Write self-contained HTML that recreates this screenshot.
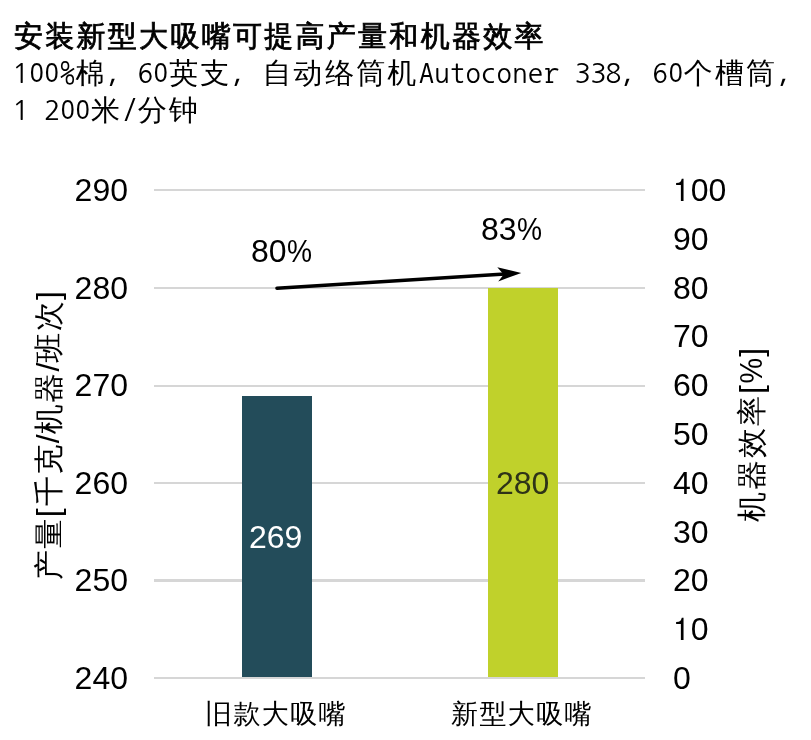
<!DOCTYPE html>
<html lang="zh-CN">
<head>
<meta charset="utf-8">
<title>安装新型大吸嘴可提高产量和机器效率</title>
<style>
html,body{margin:0;padding:0;background:#fff;}
body{width:811px;height:740px;position:relative;overflow:hidden;color:#000;}
.t{position:absolute;white-space:nowrap;line-height:1;will-change:transform;}
#title{left:14px;top:16.7px;font:29px "WenQuanYi Zen Hei","Noto Sans CJK SC",sans-serif;letter-spacing:2.28px;-webkit-text-stroke:0.8px #000;}
.sub{position:absolute;left:13px;white-space:pre;font:29px/1 "WenQuanYi Zen Hei Mono","WenQuanYi Zen Hei",monospace;letter-spacing:2.2px;will-change:transform;}
.sub i{font-style:normal;display:inline-block;width:15.6px;text-align:center;font:28px/1 "Liberation Sans",Arial,sans-serif;letter-spacing:0;position:relative;top:-0.7px;transform:scaleX(0.87);}
.sub i.n{font:30px/1 "NanumGothicCoding","Liberation Sans",Arial,sans-serif;top:-0.9px;transform:none;}
.g{position:absolute;left:154px;width:491px;height:2.4px;background:#d6d6d6;}
.bar{position:absolute;}
.yl{font:32px "Liberation Sans",Arial,sans-serif;text-align:right;width:80px;}
.yr{font:32px "Liberation Sans",Arial,sans-serif;}
.yr s{text-decoration:none;font-family:"FreeSans","Liberation Sans",Arial,sans-serif;font-size:30.4px;letter-spacing:0.9px;}
.cat{font:27px "WenQuanYi Zen Hei","Noto Sans CJK SC",sans-serif;letter-spacing:1.4px;}
.ax{font:32px "Liberation Sans","WenQuanYi Zen Hei",sans-serif;transform-origin:0 0;transform:rotate(-90deg);}
.pct{font:32px "Liberation Sans",Arial,sans-serif;}
.pc{display:inline-block;transform:scaleX(0.88);transform-origin:0 0;}
.ax b{font-weight:normal;font-size:30px;letter-spacing:2px;}
.ax.l b{letter-spacing:1.35px;}
.pc2{display:inline-block;transform:scaleX(0.9);}
.val{font:32px "Liberation Sans",Arial,sans-serif;}
</style>
</head>
<body>
<div class="t" id="title">安装新型大吸嘴可提高产量和机器效率</div>
<div class="sub" style="top:58.9px"><i class="n">1</i><i>0</i><i>0</i><i class="n">%</i>棉，<i class="n">6</i><i>0</i>英支，自动络筒机<i class="n">A</i><i class="n">u</i><i class="n">t</i><i class="n">o</i><i class="n">c</i><i class="n">o</i><i class="n">n</i><i class="n">e</i><i class="n">r</i><i class="n"> </i><i class="n">3</i><i class="n">3</i><i class="n">8</i>，<i class="n">6</i><i>0</i>个槽筒，</div>
<div class="sub" style="top:96.0px"><i class="n">1</i><i class="n"> </i><i class="n">2</i><i>0</i><i>0</i>米<i class="n">/</i>分钟</div>

<div class="g" style="top:188.8px"></div>
<div class="g" style="top:287.1px"></div>
<div class="g" style="top:384.6px"></div>
<div class="g" style="top:482.0px"></div>
<div class="g" style="top:579.3px"></div>

<div class="bar" style="left:242px;top:395.8px;width:70px;height:281.6px;background:#234c5a"></div>
<div class="bar" style="left:488px;top:288.2px;width:70px;height:389.6px;background:#c0d12b"></div>
<div class="g" style="top:676.9px"></div>

<div class="t yl" style="left:47.7px;top:172px">290</div>
<div class="t yl" style="left:47.7px;top:270px">280</div>
<div class="t yl" style="left:47.7px;top:367px">270</div>
<div class="t yl" style="left:47.7px;top:465px">260</div>
<div class="t yl" style="left:47.7px;top:562px">250</div>
<div class="t yl" style="left:47.7px;top:660px">240</div>

<div class="t yr" style="left:672.5px;top:172px"><s>1</s>00</div>
<div class="t yr" style="left:672.5px;top:221px">90</div>
<div class="t yr" style="left:672.5px;top:270px">80</div>
<div class="t yr" style="left:672.5px;top:318px">70</div>
<div class="t yr" style="left:672.5px;top:367px">60</div>
<div class="t yr" style="left:672.5px;top:416px">50</div>
<div class="t yr" style="left:672.5px;top:465px">40</div>
<div class="t yr" style="left:672.5px;top:514px">30</div>
<div class="t yr" style="left:672.5px;top:562px">20</div>
<div class="t yr" style="left:672.5px;top:611px"><s>1</s>0</div>
<div class="t yr" style="left:672.5px;top:660px">0</div>

<div class="t ax l" style="left:28.5px;top:579.6px"><b>产量</b><span style="margin-right:2.5px">[</span><b>千克</b>/<b>机器</b>/<b>班次</b>]</div>
<div class="t ax" style="left:731.8px;top:521.5px"><b>机器效率</b>[<span class="pc2">%</span>]</div>

<div class="t val" style="left:248.7px;top:519px;color:#fff">269</div>
<div class="t val" style="left:495.6px;top:465.2px;color:#2e3318">280</div>

<div class="t pct" style="left:251px;top:233px">80<span class="pc">%</span></div>
<div class="t pct" style="left:480.7px;top:211px">83<span class="pc">%</span></div>

<svg style="position:absolute;left:0;top:0" width="811" height="740" viewBox="0 0 811 740">
<line x1="277" y1="288.2" x2="505" y2="274" stroke="#000" stroke-width="3.6" stroke-linecap="round"/>
<path d="M521.3 272.9 L497.3 267.3 L503.7 274.4 L498.2 281.5 Z" fill="#000"/>
</svg>

<div class="t cat" style="left:204.8px;top:695.8px">旧款大吸嘴</div>
<div class="t cat" style="left:450.8px;top:695.8px">新型大吸嘴</div>
</body>
</html>
